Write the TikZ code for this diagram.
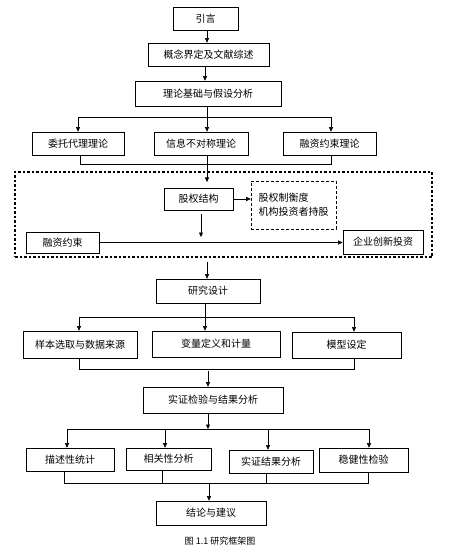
\documentclass[tikz,border=0pt]{standalone}
\usepackage{fontspec}
\setmainfont{Noto Sans CJK SC}
\usetikzlibrary{arrows.meta,shadows}
\begin{document}
\begin{tikzpicture}[x=1pt,y=-1pt,
  box/.style={draw, line width=0.6pt, fill=white, inner sep=0pt,
    font=\fontsize{10}{11}\selectfont,
    drop shadow={shadow xshift=0.8pt, shadow yshift=-0.8pt, fill=black, opacity=1}},
  conn/.style={line width=0.5pt},
  arr/.style={conn, -{Triangle[length=4.5pt,width=4pt]}},
  dotov/.style={line width=0.9pt, dash pattern=on 0.8pt off 0.7pt},
  ]
\useasboundingbox (0,0) rectangle (461,553);
\fill[white] (0,0) rectangle (461,553);

% frames
\node[draw, line width=1.2pt, dash pattern=on 2.5pt off 2pt, inner sep=0pt,
  minimum width=417pt, minimum height=85pt] (frame) at (223.5,214.5) {};

% nodes
\node[box, minimum width=65pt, minimum height=23pt] (yin) at (205.5,18.5) {引言};
\node[box, minimum width=121pt, minimum height=23pt] (gn) at (208.5,54.5) {概念界定及文献综述};
\node[box, minimum width=146pt, minimum height=25pt] (ll) at (208,93.5) {理论基础与假设分析};
\node[box, minimum width=92pt, minimum height=23pt] (wt) at (78,143.5) {委托代理理论};
\node[box, minimum width=94pt, minimum height=23pt] (xx) at (201,143.5) {信息不对称理论};
\node[box, minimum width=93pt, minimum height=23pt] (rz) at (329.5,143.5) {融资约束理论};
\node[box, minimum width=69pt, minimum height=22pt] (gq) at (198.5,199) {股权结构};
\node[draw, line width=0.6pt, dash pattern=on 3pt off 2pt, inner sep=0pt,
  minimum width=85pt, minimum height=48pt, align=left,
  font=\fontsize{10}{14}\selectfont] (db) at (293.5,205) {股权制衡度\\机构投资者持股};
\node[box, minimum width=73pt, minimum height=21pt] (rs) at (62.5,242.5) {融资约束};
\node[box, minimum width=80pt, minimum height=24pt] (qy) at (383,242) {企业创新投资};
\node[box, minimum width=104pt, minimum height=24pt] (yj) at (208,291) {研究设计};
\node[box, minimum width=114pt, minimum height=27pt] (yb) at (80,344.5) {样本选取与数据来源};
\node[box, minimum width=128pt, minimum height=26pt] (bl) at (216,344) {变量定义和计量};
\node[box, minimum width=109pt, minimum height=26pt] (mx) at (346.5,345) {模型设定};
\node[box, minimum width=140pt, minimum height=26pt] (sz) at (213,400) {实证检验与结果分析};
\node[box, minimum width=88pt, minimum height=23pt] (ms) at (70,459.5) {描述性统计};
\node[box, minimum width=85pt, minimum height=22pt] (xg) at (168.5,459) {相关性分析};
\node[box, minimum width=84pt, minimum height=23pt] (sj) at (271,461.5) {实证结果分析};
\node[box, minimum width=89pt, minimum height=24pt] (wj) at (363.5,460) {稳健性检验};
\node[box, minimum width=110pt, minimum height=24pt] (jl) at (211,513) {结论与建议};
\node[font=\fontsize{9}{10}\selectfont, inner sep=0pt] (cap) at (220,541) {图 1.1 研究框架图};

% top chain
\coordinate (ax) at (207,0);
\draw[arr] (yin.south -| ax) -- (gn.north -| ax);
\coordinate (bx) at (205,0);
\draw[arr] (gn.south -| bx) -- (ll.north -| bx);

% branch 1
\coordinate (t1) at (207,117);
\coordinate (t1L) at (78,117);
\coordinate (t1R) at (331,117);
\draw[conn] (ll.south -| t1) -- (t1);
\draw[conn] (t1L) -- (t1R);
\draw[arr] (t1L) -- (wt.north -| t1L);
\draw[arr] (t1) -- (xx.north -| t1);
\draw[arr] (t1R) -- (rz.north -| t1R);

% merge 1
\coordinate (m1L) at (80,164);
\coordinate (m1R) at (331,164);
\draw[conn] (wt.south -| m1L) -- (m1L) -- (m1R) -- (rz.south -| m1R);
\draw[dotov] (81,164) -- (173,164);
\draw[dotov] (280,164) -- (330,164);
\coordinate (m1E) at (207,182);
\draw[arr] (xx.south -| m1E) -- (m1E);

% inside frame
\draw[arr] (gq.east) -- (gq.east -| db.west);
\coordinate (g1) at (201,214);
\coordinate (g2) at (201,237);
\draw[arr] (g1) -- (g2);
\draw[arr] (rs.east) -- (rs.east -| qy.west);
\draw[dotov] (100,242.5) -- (213,242.5);
\draw[dotov] (308,242.5) -- (338,242.5);

% to research design
\coordinate (f1) at (207,262);
\draw[arr] (f1) -- (yj.north -| f1);

% branch 2
\coordinate (t2) at (205,317);
\coordinate (t2L) at (79,317);
\coordinate (t2R) at (354,317);
\draw[arr] (yj.south -| t2) -- (bl.north -| t2);
\draw[conn] (t2L) -- (t2R);
\draw[arr] (t2L) -- (yb.north -| t2L);
\draw[arr] (t2R) -- (mx.north -| t2R);
\draw[dotov] (217,317) -- (353,317);

% merge 2
\coordinate (m2L) at (79,369);
\coordinate (m2R) at (354,369);
\draw[conn] (yb.south -| m2L) -- (m2L) -- (m2R) -- (mx.south -| m2R);
\draw[dotov] (80,369) -- (165,369);
\draw[dotov] (260,369) -- (353,369);
\coordinate (m2E) at (208,371);
\draw[arr] (m2E) -- (sz.north -| m2E);

% branch 3
\coordinate (t3) at (208,429);
\coordinate (t3L) at (67,429);
\coordinate (t3R) at (369,429);
\coordinate (t3b) at (165,429);
\coordinate (t3c) at (268,429);
\draw[arr] (sz.south -| t3) -- (t3);
\draw[conn] (t3L) -- (t3R);
\draw[dotov] (67,429) -- (340,429);
\draw[arr] (t3L) -- (ms.north -| t3L);
\draw[arr] (t3b) -- (xg.north -| t3b);
\draw[arr] (t3c) -- (sj.north -| t3c);
\draw[arr] (t3R) -- (wj.north -| t3R);

% merge 3
\coordinate (m3a) at (64,483);
\coordinate (m3b) at (162,483);
\coordinate (m3c) at (266,483);
\coordinate (m3d) at (368,483);
\coordinate (m3E) at (209,483);
\draw[conn] (ms.south -| m3a) -- (m3a) -- (m3d) -- (wj.south -| m3d);
\draw[conn] (xg.south -| m3b) -- (m3b);
\draw[conn] (sj.south -| m3c) -- (m3c);
\draw[arr] (m3E) -- (jl.north -| m3E);
\end{tikzpicture}
\end{document}
